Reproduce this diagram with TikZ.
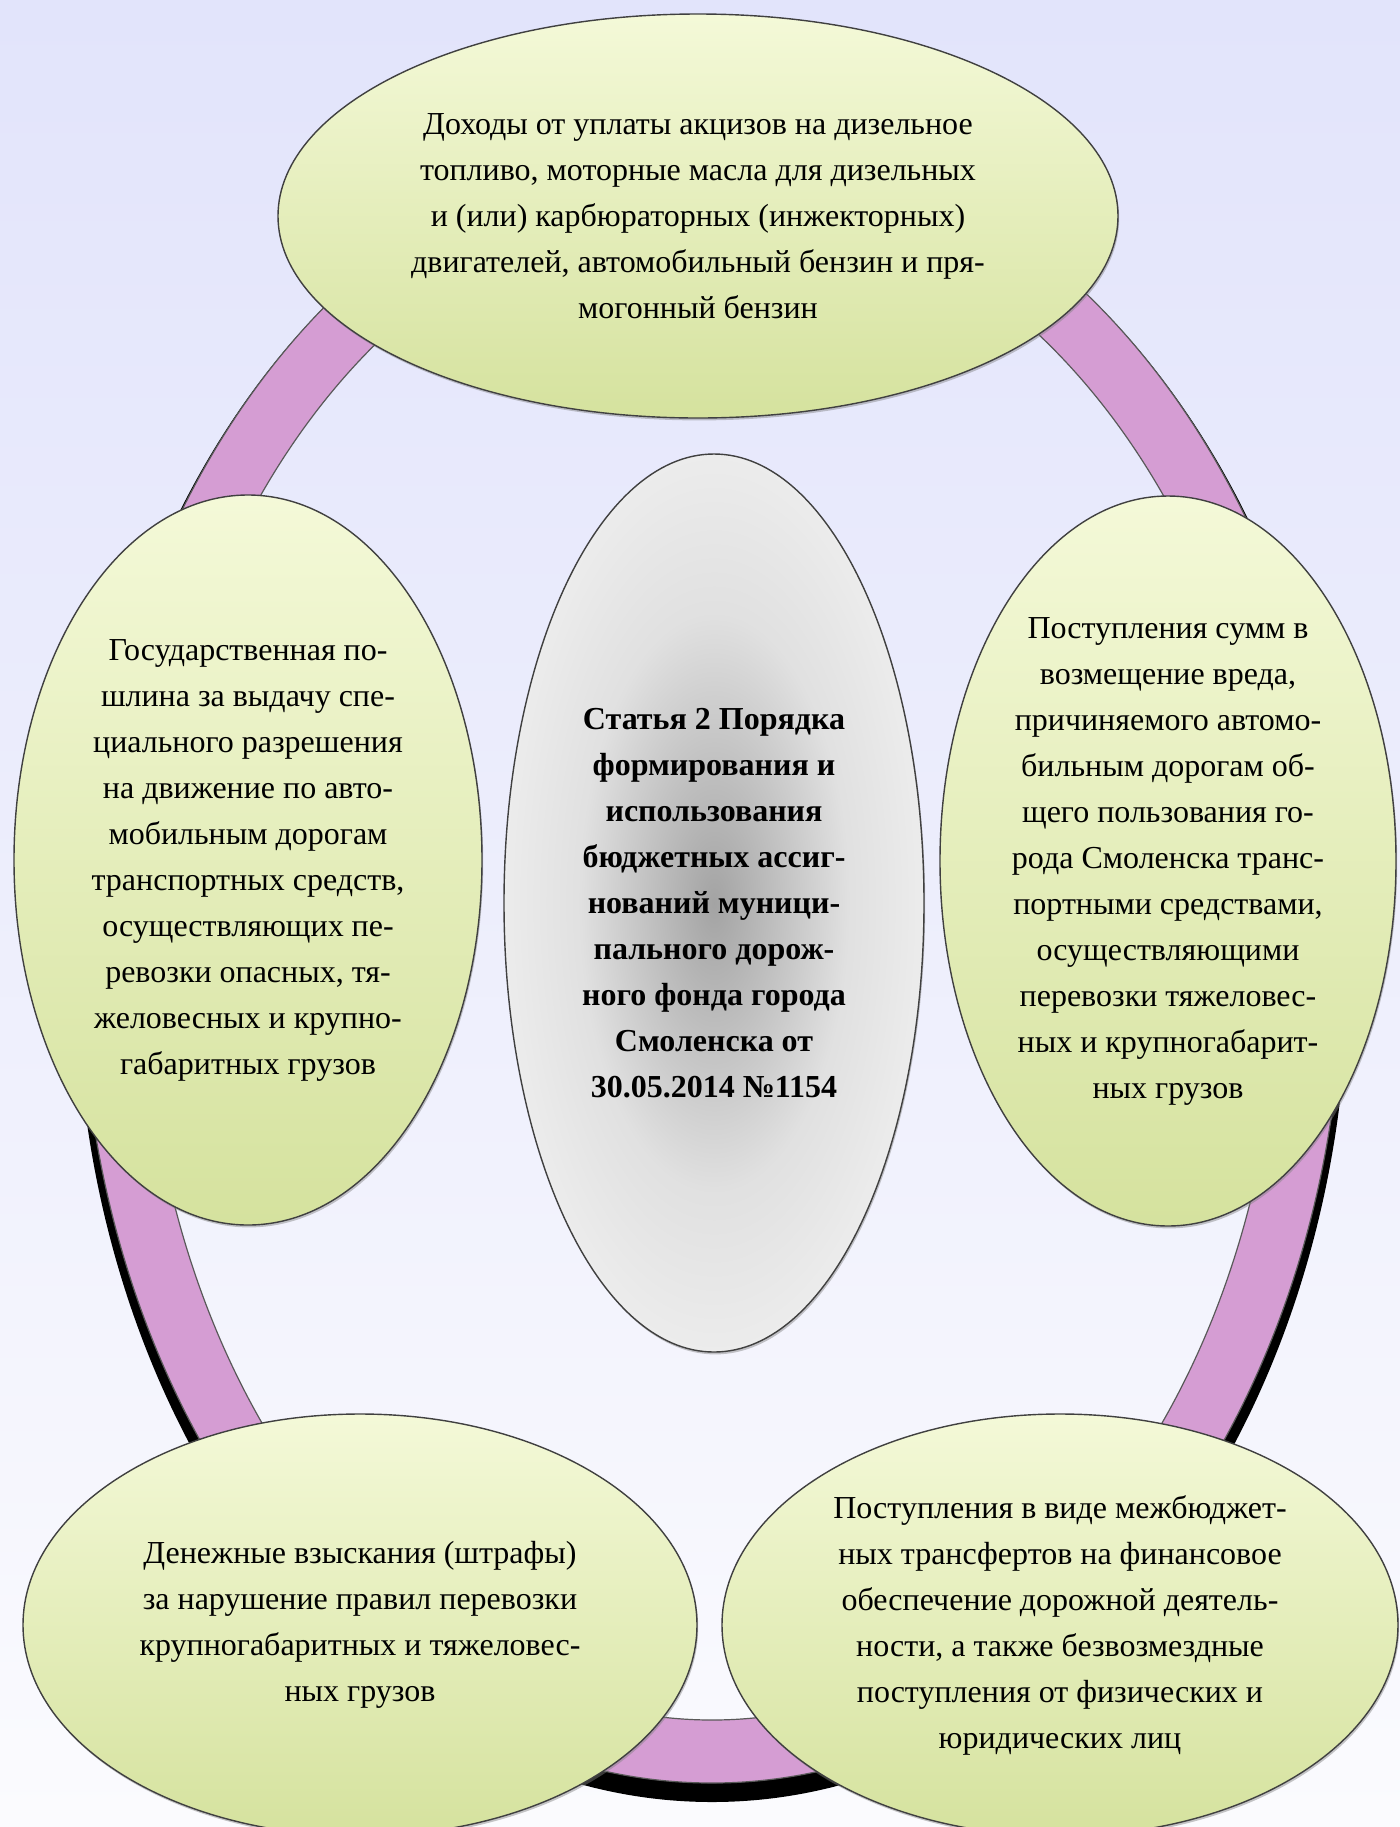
\documentclass[tikz,border=0pt]{standalone}
\usepackage{fontspec}
\setmainfont{Liberation Serif}
\usetikzlibrary{shapes.geometric,shadows}

\definecolor{bgtop}{RGB}{226,228,251}
\definecolor{bgbot}{RGB}{251,251,254}
\definecolor{ringpink}{RGB}{213,157,211}
\definecolor{petaltop}{RGB}{244,249,216}
\definecolor{petalbot}{RGB}{213,226,158}

\pgfdeclareradialshading{hubglow}{\pgfpoint{0bp}{0bp}}{color(0bp)=(black!36); color(6bp)=(black!27); color(16bp)=(black!12); color(26bp)=(black!7); color(50bp)=(black!5)}

\tikzset{
    petal/.style={ellipse, draw=black!75, line width=0.7pt, top color=petaltop, bottom color=petalbot,
        inner sep=0pt, align=center, font=\fontsize{16}{23}\selectfont,
        drop shadow={opacity=0.45, shadow xshift=0.6pt, shadow yshift=-1.2pt}},
    hub/.style={petal, shading=hubglow, font=\fontsize{16}{23}\selectfont\bfseries}
}

\begin{document}
\begin{tikzpicture}[x=0.5pt, y=-0.5pt]
    \shade[top color=bgtop, bottom color=bgbot, middle color=bgtop!55!bgbot] (0,0) rectangle (1400,1827);
    \useasboundingbox (0,0) rectangle (1400,1827);

    \coordinate (ring) at (712,958);
    \coordinate (ringshadow) at (712,968);
    \fill[black, even odd rule] (ringshadow) ellipse [x radius=318pt, y radius=417pt]
        (ringshadow) ellipse [x radius=287pt, y radius=385pt];
    \fill[ringpink, draw=black!65, line width=0.6pt, even odd rule] (ring) ellipse [x radius=315.5pt, y radius=412.5pt]
        (ring) ellipse [x radius=284pt, y radius=381pt];

    \node[petal, minimum width=420pt, minimum height=202pt] (fuel) at (698,216)
        {Доходы от уплаты акцизов на дизельное\\топливо, моторные масла для дизельных\\и (или) карбюраторных (инжекторных)\\двигателей, автомобильный бензин и пря-\\могонный бензин};
    \node[petal, minimum width=234pt, minimum height=365pt] (duty) at (248,860)
        {Государственная по-\\шлина за выдачу спе-\\циального разрешения\\на движение по авто-\\мобильным дорогам\\транспортных средств,\\осуществляющих пе-\\ревозки опасных, тя-\\желовесных и крупно-\\габаритных грузов};
    \node[petal, minimum width=228pt, minimum height=365pt] (harm) at (1168,861)
        {Поступления сумм в\\возмещение вреда,\\причиняемого автомо-\\бильным дорогам об-\\щего пользования го-\\рода Смоленска транс-\\портными средствами,\\осуществляющими\\перевозки тяжеловес-\\ных и крупногабарит-\\ных грузов};
    \node[hub, minimum width=210pt, minimum height=449pt] (statute) at (714,903)
        {Статья 2 Порядка\\формирования и\\использования\\бюджетных ассиг-\\нований муници-\\пального дорож-\\ного фонда города\\Смоленска от\\30.05.2014 №1154};
    \node[petal, minimum width=337pt, minimum height=211pt] (fines) at (360,1625)
        {Денежные взыскания (штрафы)\\за нарушение правил перевозки\\крупногабаритных и тяжеловес-\\ных грузов};
    \node[petal, minimum width=338pt, minimum height=211pt] (transfers) at (1060,1625)
        {Поступления в виде межбюджет-\\ных трансфертов на финансовое\\обеспечение дорожной деятель-\\ности, а также безвозмездные\\поступления от физических и\\юридических лиц};
\end{tikzpicture}
\end{document}
